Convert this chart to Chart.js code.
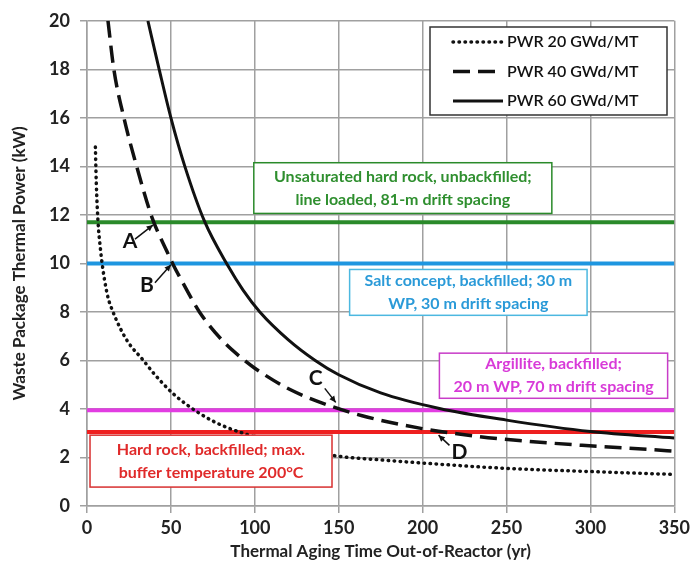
<!DOCTYPE html>
<html>
<head>
<meta charset="utf-8">
<script src="https://cdn.jsdelivr.net/npm/chart.js@4.4.1/dist/chart.umd.min.js"></script>
<style>
  html, body { margin: 0; padding: 0; background: #fff; }
  #wrap { width: 694px; height: 574px; }
</style>
</head>
<body>
<div id="wrap"><canvas id="powerChart"></canvas></div>
<script>
// --- Data ---
const ageYears20 = [5, 5.5, 6.5, 8, 9, 10.5, 12.5, 15.5, 20, 25, 33, 40, 51, 60, 67, 75, 83, 93, 100, 125, 150, 175, 200, 250, 300, 350];
const powerKw20 = [14.8, 13.4, 11.8, 10.6, 10.0, 9.3, 8.6, 8.0, 7.3, 6.7, 6.05, 5.45, 4.65, 4.15, 3.82, 3.5, 3.25, 3.0, 2.85, 2.38, 2.05, 1.9, 1.77, 1.55, 1.42, 1.3];

const ageYears40 = [12.5, 16, 22, 30, 38.7, 47.6, 51, 59.5, 67, 81, 93, 100, 121, 146, 164, 199, 234, 261, 295, 337, 350];
const powerKw40 = [20, 18, 16, 13.9, 11.9, 10.5, 10.0, 8.9, 8.0, 6.8, 6.05, 5.68, 4.8, 4.1, 3.72, 3.2, 2.86, 2.68, 2.5, 2.32, 2.26];

const ageYears60 = [36.3, 43, 50, 58.3, 70, 84, 93, 103, 120, 136, 150, 175, 210, 250, 300, 350];
const powerKw60 = [20, 18, 16, 14.0, 11.74, 9.9, 8.9, 8.0, 6.85, 6.0, 5.41, 4.66, 4.02, 3.54, 3.07, 2.8];

const seriesNames = ["PWR 20 GWd/MT", "PWR 40 GWd/MT", "PWR 60 GWd/MT"];

// repository concept limits (kW)
const limitNames = ["Unsaturated hard rock", "Salt concept", "Argillite", "Hard rock"];
const limitValues = [11.7, 10.0, 3.95, 3.05];
const limitSpan = [0, 350];

const xTicks = [0, 50, 100, 150, 200, 250, 300, 350];
const yTicks = [0, 2, 4, 6, 8, 10, 12, 14, 16, 18, 20];

const limitColors = ["#2a8a2a", "#1e96e0", "#e23de2", "#ee2020"];

function toPoints(xs, ys) {
  return xs.map((x, i) => ({ x: x, y: ys[i] }));
}

const FONT = "Lato, 'Open Sans', sans-serif";

// --- Boxes, letters and legend drawn on top ---
const notes = [
  { color: "#2a8a2a", text: "#2f8f2f", box: [99.4, 277, 14.15, 12.06], lines: ["Unsaturated hard rock, unbackfilled;", "line loaded, 81-m drift spacing"] },
  { color: "#4cb8e0", text: "#2a9ad8", box: [156.5, 298, 9.75, 7.86], lines: ["Salt concept, backfilled; 30 m", "WP, 30 m drift spacing"] },
  { color: "#c83cc8", text: "#d83ad8", box: [210, 346, 6.3, 4.44], lines: ["Argillite, backfilled;", "20 m WP, 70 m drift spacing"] },
  { color: "#d83030", text: "#e02a2a", box: [1.8, 146, 2.92, 0.78], lines: ["Hard rock, backfilled; max.", "buffer temperature 200\u00B0C"] }
];

const pointers = [
  { label: "A", at: [25.6, 10.92], from: [28.6, 11.0], to: [39.3, 11.58] },
  { label: "B", at: [35.7, 9.08], from: [40.5, 9.2], to: [50, 9.94] },
  { label: "C", at: [136.3, 5.26], from: [141.7, 4.85], to: [148.2, 4.27] },
  { label: "D", at: [222, 2.22], from: [216, 2.5], to: [209.5, 2.92] }
];

function arrow(ctx, x1, y1, x2, y2) {
  const ang = Math.atan2(y2 - y1, x2 - x1);
  ctx.beginPath();
  ctx.moveTo(x1, y1);
  ctx.lineTo(x2, y2);
  ctx.stroke();
  ctx.beginPath();
  ctx.moveTo(x2, y2);
  ctx.lineTo(x2 - 7 * Math.cos(ang - 0.45), y2 - 7 * Math.sin(ang - 0.45));
  ctx.lineTo(x2 - 7 * Math.cos(ang + 0.45), y2 - 7 * Math.sin(ang + 0.45));
  ctx.closePath();
  ctx.fill();
}

const overlayPlugin = {
  id: "overlay",
  afterDatasetsDraw(chart) {
    const ctx = chart.ctx;
    const xs = chart.scales.x, ys = chart.scales.y;
    ctx.save();

    // text boxes
    notes.forEach((n) => {
      const x1 = xs.getPixelForValue(n.box[0]), x2 = xs.getPixelForValue(n.box[1]);
      const y1 = ys.getPixelForValue(n.box[2]), y2 = ys.getPixelForValue(n.box[3]);
      ctx.fillStyle = "#fff";
      ctx.fillRect(x1, y1, x2 - x1, y2 - y1);
      ctx.strokeStyle = n.color;
      ctx.lineWidth = 1.5;
      ctx.strokeRect(x1, y1, x2 - x1, y2 - y1);
      ctx.fillStyle = n.text;
      ctx.font = "bold 16px " + FONT;
      ctx.textAlign = "center";
      ctx.textBaseline = "middle";
      const cx = (x1 + x2) / 2, cy = (y1 + y2) / 2;
      ctx.fillText(n.lines[0], cx, cy - 11.5);
      ctx.fillText(n.lines[1], cx, cy + 11.5);
    });

    // A-D pointers
    ctx.strokeStyle = "#111";
    ctx.fillStyle = "#111";
    ctx.lineWidth = 1.5;
    pointers.forEach((p) => {
      arrow(ctx, xs.getPixelForValue(p.from[0]), ys.getPixelForValue(p.from[1]),
        xs.getPixelForValue(p.to[0]), ys.getPixelForValue(p.to[1]));
      ctx.font = "bold 21px " + FONT;
      ctx.textAlign = "center";
      ctx.textBaseline = "middle";
      ctx.fillText(p.label, xs.getPixelForValue(p.at[0]), ys.getPixelForValue(p.at[1]));
    });

    // legend box in the upper right
    const lx = 430, ly = 27, lw = 237, lh = 88;
    ctx.fillStyle = "#fff";
    ctx.fillRect(lx, ly, lw, lh);
    ctx.strokeStyle = "#333";
    ctx.lineWidth = 1.5;
    ctx.strokeRect(lx, ly, lw, lh);
    chart.data.datasets.slice(0, 3).forEach((ds, i) => {
      const y = ly + 15 + i * 29.5;
      ctx.strokeStyle = ds.borderColor;
      ctx.lineWidth = ds.borderWidth;
      ctx.lineCap = ds.borderCapStyle || "butt";
      ctx.setLineDash(ds.borderDash || []);
      ctx.beginPath();
      ctx.moveTo(453, y);
      ctx.lineTo(503, y);
      ctx.stroke();
      ctx.setLineDash([]);
      ctx.lineCap = "butt";
      ctx.fillStyle = "#111";
      ctx.font = "600 16px " + FONT;
      ctx.textAlign = "left";
      ctx.textBaseline = "middle";
      ctx.fillText(ds.label, 507, y);
    });
    ctx.restore();
  }
};

document.addEventListener("DOMContentLoaded", () => {
  const ctx = document.getElementById("powerChart");

  const curveSets = [
    { label: seriesNames[0], data: toPoints(ageYears20, powerKw20), borderColor: "#111", borderWidth: 3.5, borderDash: [0.5, 5.5], borderCapStyle: "round" },
    { label: seriesNames[1], data: toPoints(ageYears40, powerKw40), borderColor: "#111", borderWidth: 3.5, borderDash: [17, 8] },
    { label: seriesNames[2], data: toPoints(ageYears60, powerKw60), borderColor: "#111", borderWidth: 3 }
  ];
  const limitSets = limitValues.map((v, i) => ({
    label: limitNames[i],
    data: limitSpan.map((x) => ({ x: x, y: v })),
    borderColor: limitColors[i],
    borderWidth: 4
  }));

  new Chart(ctx, {
    type: "line",
    data: { datasets: curveSets.concat(limitSets) },
    options: {
      responsive: true,
      maintainAspectRatio: false,
      animation: false,
      layout: { padding: { left: 0, right: 19, top: 19, bottom: 0 } },
      elements: {
        point: { radius: 0 },
        line: { cubicInterpolationMode: "monotone", fill: false }
      },
      plugins: { legend: { display: false }, tooltip: { enabled: false } },
      scales: {
        x: {
          type: "linear",
          min: 0,
          max: 350,
          afterBuildTicks: (s) => { s.ticks = xTicks.map((v) => ({ value: v })); },
          afterFit: (s) => { s.height = 68; },
          grid: { color: "#a0a0a0", lineWidth: 1.5, tickLength: 7 },
          border: { color: "#a0a0a0", width: 1.5 },
          ticks: { color: "#222", font: { family: FONT, size: 18, weight: "bold" }, padding: 4, maxRotation: 0 },
          title: { display: true, text: "Thermal Aging Time Out-of-Reactor (yr)", color: "#222", font: { family: FONT, size: 17, weight: "bold" }, padding: { top: 0, bottom: 12 } }
        },
        y: {
          min: 0,
          max: 20,
          afterBuildTicks: (s) => { s.ticks = yTicks.map((v) => ({ value: v })); },
          afterFit: (s) => { s.width = 87; },
          grid: { color: "#a0a0a0", lineWidth: 1.5, tickLength: 7 },
          border: { color: "#a0a0a0", width: 1.5 },
          ticks: { color: "#222", font: { family: FONT, size: 18, weight: "bold" }, padding: 10 },
          title: { display: true, text: "Waste Package Thermal Power (kW)", color: "#222", font: { family: FONT, size: 17, weight: "bold" }, padding: { top: 9, bottom: 0 } }
        }
      }
    },
    plugins: [overlayPlugin]
  });
});
</script>
</body>
</html>
